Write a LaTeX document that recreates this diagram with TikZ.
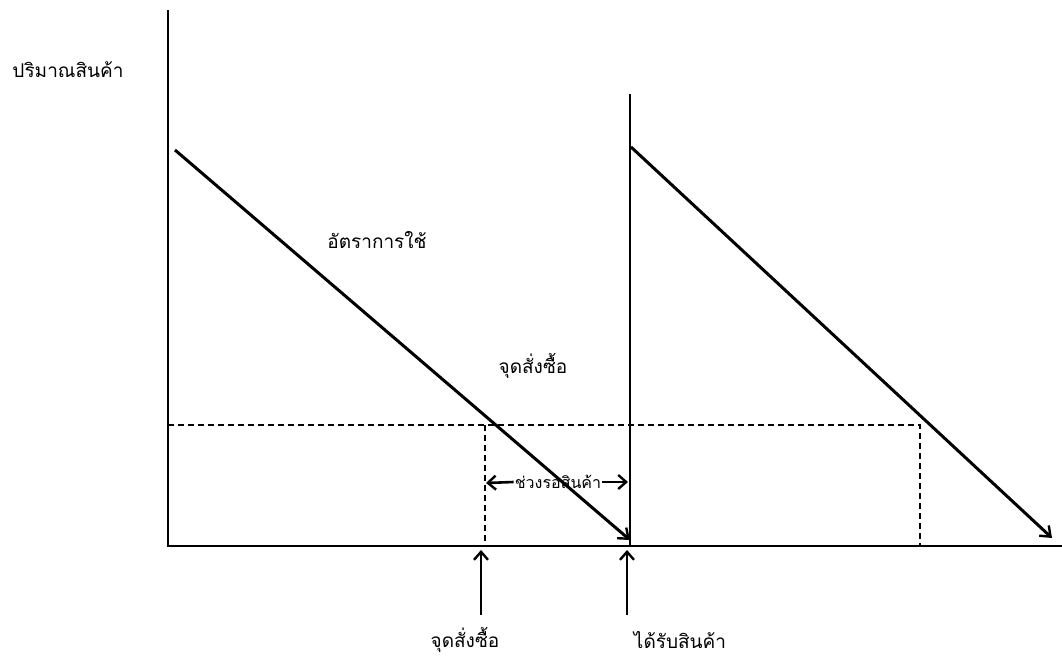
\documentclass[tikz,border=0pt]{standalone}
\usepackage{fontspec}
\newfontfamily\thaifont[Script=Thai]{Loma}
\usetikzlibrary{arrows.meta}
\begin{document}
\begin{tikzpicture}[x=1pt,y=-1pt,
  axis/.style={line width=2pt},
  usage/.style={line width=3pt,-{Straight Barb[length=9pt,width=14pt,line width=2.4pt]}},
  guide/.style={line width=2pt,dash pattern=on 6pt off 4pt},
  pointer/.style={line width=2.6pt,-{Straight Barb[length=8pt,width=14pt,line width=2.4pt]}},
  lbl/.style={font=\thaifont\fontsize{19}{22}\selectfont,inner sep=0pt},
  small/.style={font=\thaifont\fontsize{16}{18}\selectfont,inner sep=1pt}]
\useasboundingbox (0,0) rectangle (1062,668);
% axes
\coordinate (O) at (168,546);
\coordinate (Ytop) at (168,10);
\coordinate (Xend) at (1062,546);
\draw[axis] (Ytop) -- (O) -- (Xend);
\coordinate (R1top) at (630,94);
\coordinate (R1bot) at (630,546);
\draw[axis] (R1top) -- (R1bot);
% usage lines
\coordinate (A1) at (175,150);
\coordinate (A2) at (630,540);
\coordinate (B1) at (631,147);
\coordinate (B2) at (1052,538);
\draw[usage] (A1) -- (A2);
\draw[usage] (B1) -- (B2);
% reorder level
\coordinate (L0) at (168,425);
\coordinate (L1) at (485,425);
\coordinate (L2) at (920,425);
\coordinate (L1b) at (485,546);
\coordinate (L2b) at (920,546);
\draw[guide] (L0) -- (L2) -- (L2b);
\draw[guide] (L1) -- (L1b);
% lead time
\node[small] (lead) at (558,482) {ช่วงรอสินค้า};
\coordinate (LT1) at (486,483);
\coordinate (LT2) at (628,482);
\draw[pointer] (lead.west) -- (LT1);
\draw[pointer] (lead.east) -- (LT2);
% bottom arrows
\coordinate (P1) at (481,550);
\coordinate (P1b) at (481,615);
\coordinate (P2) at (627,550);
\coordinate (P2b) at (627,615);
\draw[pointer] (P1b) -- (P1);
\draw[pointer] (P2b) -- (P2);
% labels
\node[lbl] (qty) at (68,70) {ปริมาณสินค้า};
\node[lbl] (rate) at (377,240) {อัตราการใช้};
\node[lbl] (rop) at (533,366) {จุดสั่งซื้อ};
\node[lbl] (ropb) at (465,640) {จุดสั่งซื้อ};
\node[lbl] (recv) at (680,640) {ได้รับสินค้า};
\end{tikzpicture}
\end{document}
